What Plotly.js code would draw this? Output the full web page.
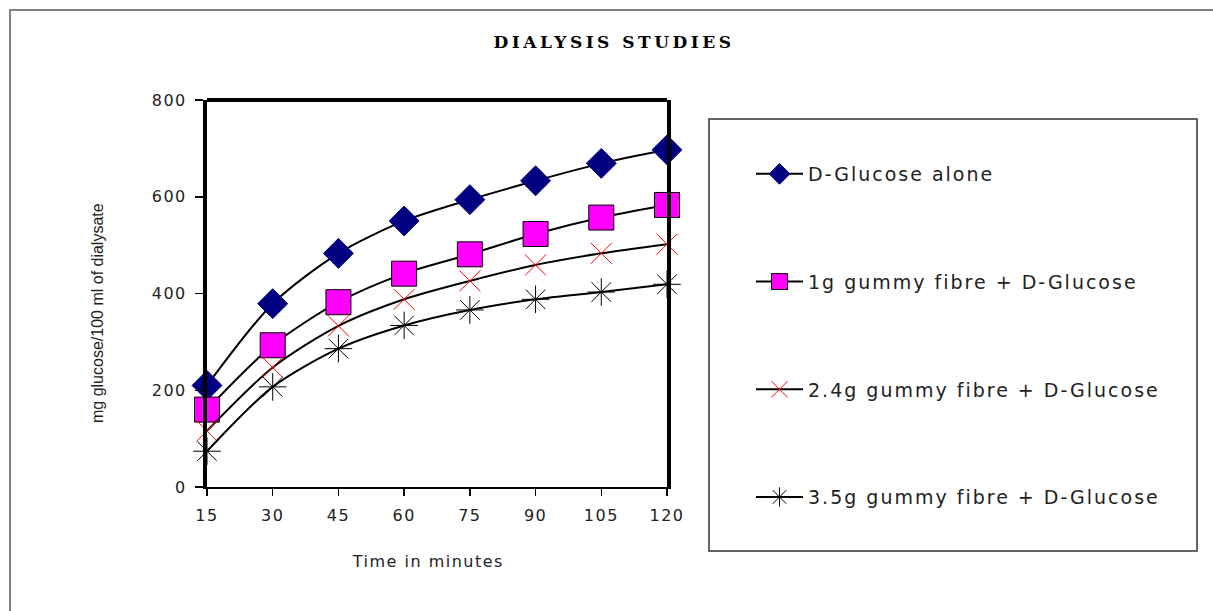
<!DOCTYPE html>
<html>
<head>
<meta charset="utf-8">
<script src="https://cdn.plot.ly/plotly-3.0.1.min.js"></script>
<style>
  html, body { margin: 0; padding: 0; background: #fff; }
  #chart { width: 1213px; height: 611px; }
  .legendtext { letter-spacing: 2px; }
  .xtick text, .ytick text { letter-spacing: 1.5px; }
  .gtitle { letter-spacing: 3.5px; }
  g.annotation[data-index="0"] text { letter-spacing: 1.5px; }
</style>
</head>
<body>
<div id="chart"></div>
<script>
// Data
const times = [15, 30, 45, 60, 75, 90, 105, 120];
const glucoseAlone = [210, 379, 483, 550, 594, 633, 669, 697];
const fibre1g      = [160, 293, 382, 441, 481, 523, 557, 583];
const fibre24g     = [116, 247, 333, 388, 426, 459, 483, 502];
const fibre35g     = [74, 207, 286, 334, 366, 388, 403, 419];
const seriesNames = [
  'D-Glucose alone',
  '1g gummy fibre + D-Glucose',
  '2.4g gummy fibre + D-Glucose',
  '3.5g gummy fibre + D-Glucose'
];
const yTicks = [0, 200, 400, 600, 800];
const chartTitle = 'DIALYSIS STUDIES';
const xTitle = 'Time in minutes';
const yTitle = 'mg glucose/100 ml of dialysate';

const lineStyle = { color: '#000000', width: 2, shape: 'spline', smoothing: 0.8 };

const traces = [
  { y: glucoseAlone, name: seriesNames[0], legendgroup: 'a',
    marker: { symbol: 'diamond', size: 23, color: '#000080', line: { color: '#000080', width: 1 } } },
  { y: fibre1g, name: seriesNames[1], legendgroup: 'b',
    marker: { symbol: 'square', size: 25, color: '#FF00FF', line: { color: '#000000', width: 1 } } },
  { y: fibre24g, name: seriesNames[2], legendgroup: 'c',
    marker: { symbol: 'x-thin-open', size: 21, color: '#FF0000', line: { color: '#FF0000', width: 1 } } },
  { y: fibre35g, name: seriesNames[3], legendgroup: 'd',
    marker: { symbol: 'asterisk-open', size: 23, color: '#000000', line: { color: '#000000', width: 1 } } }
].map(t => Object.assign({
  x: times, type: 'scatter', mode: 'lines+markers', line: lineStyle, cliponaxis: false
}, t));

// pixel helpers for paper coordinates (plot area 207..667 x, 100..487 y)
const L = 207, R = 667, T = 100, B = 487;
const px = v => (v - L) / (R - L);
const py = v => (B - v) / (B - T);

const layout = {
  width: 1213, height: 611,
  margin: { l: L, r: 1213 - R, t: T, b: 611 - B, pad: 0 },
  paper_bgcolor: '#ffffff', plot_bgcolor: '#ffffff',
  font: { family: 'DejaVu Sans, Arial, sans-serif', color: '#222222', size: 16 },
  title: {
    text: chartTitle,
    font: { family: 'DejaVu Serif, Liberation Serif, serif', size: 17, color: '#000000', weight: 'bold' },
    x: 614 / 1213, xref: 'container', xanchor: 'center',
    y: 1 - 42 / 611, yref: 'container', yanchor: 'middle'
  },
  xaxis: {
    range: [15, 120], tickvals: times, ticktext: times.map(String),
    showgrid: false, zeroline: false,
    showline: true, linecolor: '#000000', linewidth: 2,
    ticks: 'outside', ticklen: 7, tickwidth: 1.5, tickcolor: '#000000',
    tickfont: { size: 16, color: '#222222' }, ticklabelstandoff: 6,
    fixedrange: true
  },
  yaxis: {
    range: [0, 800], tickvals: yTicks,
    showgrid: false, zeroline: false,
    showline: true, mirror: true, linecolor: '#000000', linewidth: 4,
    ticks: 'outside', ticklen: 8, tickwidth: 1.5, tickcolor: '#000000',
    tickfont: { size: 16, color: '#222222' }, ticklabelstandoff: 5,
    fixedrange: true
  },
  showlegend: true,
  legend: {
    x: px(751), xanchor: 'left', y: py(155), yanchor: 'top',
    traceorder: 'grouped', tracegroupgap: 80, itemwidth: 47,
    bgcolor: 'rgba(0,0,0,0)', borderwidth: 0,
    font: { family: 'DejaVu Sans, Arial, sans-serif', size: 19, color: '#222222' },
    itemclick: false, itemdoubleclick: false
  },
  shapes: [
    // outer chart frame
    { type: 'rect', xref: 'paper', yref: 'paper', x0: px(10), x1: px(1260), y0: py(10), y1: py(660),
      line: { color: '#808080', width: 2 }, layer: 'below' },
    // top of plot frame (thick)
    { type: 'line', xref: 'paper', yref: 'paper', x0: 0, x1: 1, y0: 1, y1: 1,
      line: { color: '#000000', width: 4 }, layer: 'below' },
    // legend box
    { type: 'rect', xref: 'paper', yref: 'paper', x0: px(709), x1: px(1197), y0: py(119), y1: py(551),
      line: { color: '#333333', width: 1.5 }, layer: 'below' }
  ],
  annotations: [
    { text: xTitle, xref: 'paper', yref: 'paper', x: px(428), y: py(561),
      xanchor: 'center', yanchor: 'middle', showarrow: false,
      font: { family: 'DejaVu Sans, Arial, sans-serif', size: 16, color: '#222222' } },
    { text: yTitle, xref: 'paper', yref: 'paper', x: px(97), y: py(313), textangle: -90,
      xanchor: 'center', yanchor: 'middle', showarrow: false,
      font: { family: 'Liberation Sans, Arial, sans-serif', size: 16, color: '#222222' } }
  ]
};

Plotly.newPlot('chart', traces, layout, { displayModeBar: false, staticPlot: true });
</script>
</body>
</html>
